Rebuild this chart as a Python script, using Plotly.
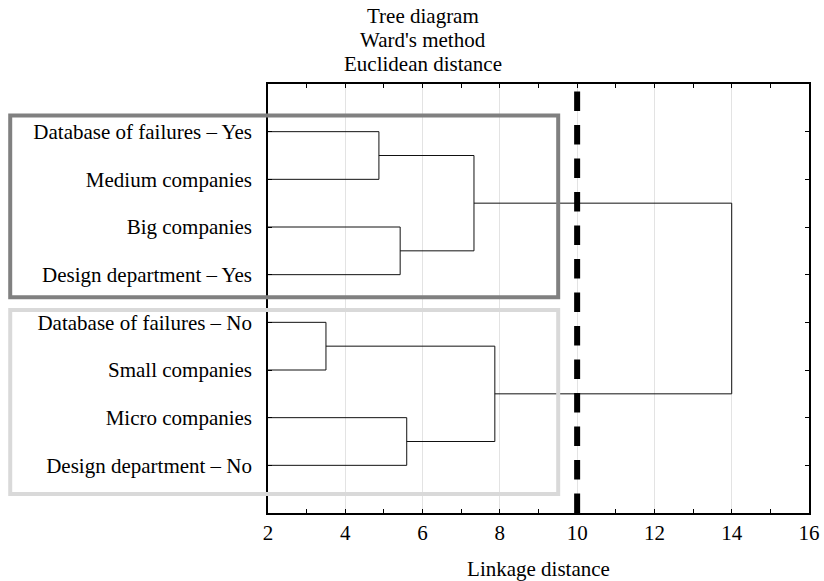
import plotly.graph_objects as go

# --- data ---
LEAF_LABELS = [
    "Database of failures – Yes",
    "Medium companies",
    "Big companies",
    "Design department – Yes",
    "Database of failures – No",
    "Small companies",
    "Micro companies",
    "Design department – No",
]
# linkage rows: left node, right node, linkage distance (nodes 0-7 are leaves)
LINK_LEFT = [0, 2, 8, 4, 6, 11, 10]
LINK_RIGHT = [1, 3, 9, 5, 7, 12, 13]
LINK_DIST = [4.87, 5.42, 7.33, 3.50, 5.59, 7.87, 14.0]
CUT_DIST = 10
X_TICKS = [2, 4, 6, 8, 10, 12, 14, 16]
TITLE_LINES = ["Tree diagram", "Ward's method", "Euclidean distance"]

FONT = "Liberation Serif, Times New Roman, serif"
LINE = "#111111"

x_min = X_TICKS[0]
n_leaves = len(LEAF_LABELS)

# node position (y) and height (x)
node_y = {i: i + 1 for i in range(n_leaves)}
node_x = {i: x_min for i in range(n_leaves)}

fig = go.Figure()
for k, (a, b, d) in enumerate(zip(LINK_LEFT, LINK_RIGHT, LINK_DIST)):
    nid = n_leaves + k
    fig.add_trace(go.Scatter(
        x=[node_x[a], d, d, node_x[b]],
        y=[node_y[a], node_y[a], node_y[b], node_y[b]],
        mode="lines", line=dict(color=LINE, width=1),
        hoverinfo="skip", showlegend=False,
    ))
    node_y[nid] = (node_y[a] + node_y[b]) / 2
    node_x[nid] = d

# cut line
fig.add_trace(go.Scatter(
    x=[CUT_DIST, CUT_DIST], y=[n_leaves + 1, 0],
    mode="lines", line=dict(color="black", width=6, dash="19.5px,14px"),
    hoverinfo="skip", showlegend=False,
))

# cluster boxes
BOX_X0, BOX_X1 = -0.4765, 0.5364
fig.add_shape(type="rect", xref="paper", yref="y", layer="above",
              x0=BOX_X0, x1=BOX_X1, y0=0.66, y1=4.475,
              line=dict(color="#808080", width=4), fillcolor="rgba(0,0,0,0)")
fig.add_shape(type="rect", xref="paper", yref="y", layer="above",
              x0=BOX_X0, x1=BOX_X1, y0=4.74, y1=8.6,
              line=dict(color="#d9d9d9", width=4), fillcolor="rgba(0,0,0,0)")

# three-line title
for i, line in enumerate(TITLE_LINES):
    fig.add_annotation(
        text=line, xref="paper", yref="paper",
        x=(423 - 268) / 541, y=1.1585 - i * 0.0565,
        xanchor="center", yanchor="middle", showarrow=False,
        font=dict(family=FONT, size=21, color="black"),
    )

fig.update_layout(
    width=824, height=581,
    paper_bgcolor="white", plot_bgcolor="white",
    margin=dict(l=268, r=15, t=84, b=68),
    font=dict(family=FONT, color="black", size=21),
    showlegend=False,
)
fig.update_xaxes(
    range=[X_TICKS[0], X_TICKS[-1]],
    tickvals=X_TICKS,
    ticks="inside", ticklen=4, tickwidth=1, tickcolor="black",
    minor=dict(dtick=1, ticks="inside", ticklen=4, tickwidth=1, tickcolor="black", showgrid=False),
    showgrid=True, gridcolor="#e3e3e3", gridwidth=1,
    showline=True, linecolor="black", linewidth=1.5, mirror="ticks",
    zeroline=False, automargin=False,
    ticklabelstandoff=0,
    title=dict(text="Linkage distance", standoff=17, font=dict(family=FONT, size=21)),
)
fig.update_yaxes(
    range=[n_leaves + 1, 0],
    tickvals=list(range(1, n_leaves + 1)),
    ticktext=LEAF_LABELS,
    ticks="inside", ticklen=4, tickwidth=1, tickcolor="black",
    showgrid=False,
    showline=True, linecolor="black", linewidth=1.5, mirror="ticks",
    zeroline=False, automargin=False,
    ticklabelstandoff=10,
)

# drop the default 8px body margin so the figure fills the window exactly
fig.write_html(
    "out.html",
    config={"displayModeBar": False},
    post_script="document.body.style.margin = '0';",
)
